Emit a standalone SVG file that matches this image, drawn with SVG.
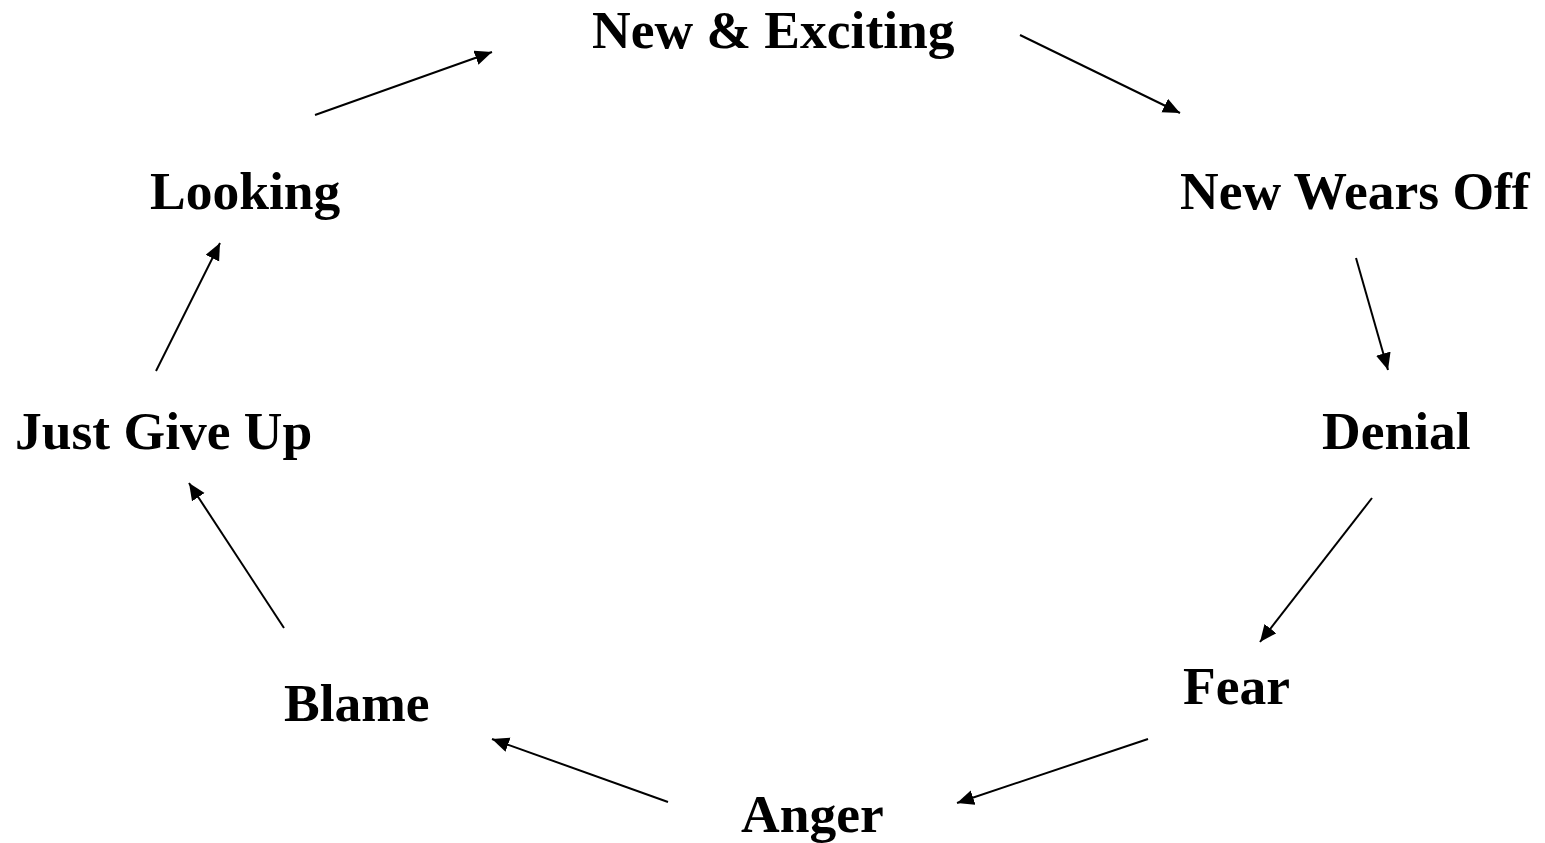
<svg xmlns="http://www.w3.org/2000/svg" width="1545" height="843" viewBox="0 0 1545 843">
<style>
text{font-family:"Liberation Serif","Times New Roman",serif;font-weight:bold;font-size:53.5px;fill:#000}
.c line{stroke:#000;stroke-width:2;marker-end:url(#ah)}
</style>
<defs>
<marker id="ah" markerUnits="userSpaceOnUse" markerWidth="20" markerHeight="16" refX="17" refY="7.5" orient="auto">
<path d="M0,0 L17,7.5 L0,15 Z" fill="#000"/>
</marker>
</defs>
<rect width="1545" height="843" fill="#fff"/>
<g id="n1"><text x="592" y="48">New &amp; Exciting</text></g>
<g id="n2"><text x="1180" y="209">New Wears Off</text></g>
<g id="n3"><text x="1322" y="449">Denial</text></g>
<g id="n4"><text x="1183" y="704">Fear</text></g>
<g id="n5"><text x="741" y="832">Anger</text></g>
<g id="n6"><text x="284" y="721">Blame</text></g>
<g id="n7"><text x="15" y="449">Just Give Up</text></g>
<g id="n8"><text x="150" y="209">Looking</text></g>
<g class="c" id="connectors">
<line x1="315" y1="115" x2="492" y2="52"/>
<line x1="1020" y1="35" x2="1180" y2="113"/>
<line x1="1356" y1="258" x2="1388" y2="370"/>
<line x1="1372" y1="498" x2="1260" y2="642"/>
<line x1="1148" y1="739" x2="957" y2="803"/>
<line x1="668" y1="802" x2="492" y2="739"/>
<line x1="284" y1="628" x2="189" y2="483"/>
<line x1="156" y1="371" x2="220" y2="243"/>
</g>
</svg>
